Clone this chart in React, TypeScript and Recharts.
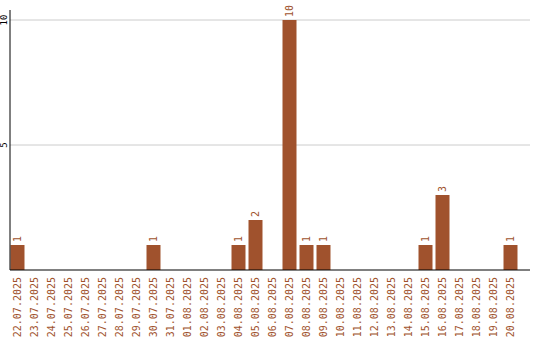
import React from "react";
import { BarChart, Bar, XAxis, YAxis, CartesianGrid, LabelList } from "recharts";

const dates = [
  "22.07.2025", "23.07.2025", "24.07.2025", "25.07.2025", "26.07.2025",
  "27.07.2025", "28.07.2025", "29.07.2025", "30.07.2025", "31.07.2025",
  "01.08.2025", "02.08.2025", "03.08.2025", "04.08.2025", "05.08.2025",
  "06.08.2025", "07.08.2025", "08.08.2025", "09.08.2025", "10.08.2025",
  "11.08.2025", "12.08.2025", "13.08.2025", "14.08.2025", "15.08.2025",
  "16.08.2025", "17.08.2025", "18.08.2025", "19.08.2025", "20.08.2025",
];
const counts = [
  1, 0, 0, 0, 0,
  0, 0, 0, 1, 0,
  0, 0, 0, 1, 2,
  0, 10, 1, 1, 0,
  0, 0, 0, 0, 1,
  3, 0, 0, 0, 1,
];
const yTicks = [0, 5, 10];
const gridValues = [5, 10];

const data = dates.map((d, i) => ({ date: d, value: counts[i] }));

const BROWN = "#a0522d";
const FONT = "DejaVu Sans Mono";

const XTick = (props: any) => {
  const { x, y, payload } = props;
  return (
    <text
      transform={`translate(${x},${y}) rotate(-90)`}
      textAnchor="end"
      dy="0.35em"
      fill={BROWN}
      fontSize={10}
      fontFamily={FONT}
    >
      {payload.value}
    </text>
  );
};

const YTick = (props: any) => {
  const { x, y, payload } = props;
  if (!payload.value) return null;
  return (
    <text
      transform={`translate(${x},${y}) rotate(-90)`}
      textAnchor="middle"
      dy="0.35em"
      fill="#000"
      fontSize={9}
      fontFamily={FONT}
    >
      {payload.value}
    </text>
  );
};

const ValueLabel = (props: any) => {
  const { x, y, width, value } = props;
  if (!value) return null;
  return (
    <text
      transform={`translate(${x + width / 2},${y - 3}) rotate(-90)`}
      textAnchor="start"
      dy="0.35em"
      fill={BROWN}
      fontSize={10}
      fontFamily={FONT}
    >
      {value}
    </text>
  );
};

export default function App() {
  return (
    <div style={{ position: "absolute", left: 0, top: 0, background: "#fff" }}>
      <BarChart
        width={540}
        height={340}
        data={data}
        margin={{ top: 10, right: 10, bottom: 0, left: 0 }}
      >
        <CartesianGrid vertical={false} stroke="#cccccc" horizontalValues={gridValues} />
        <XAxis
          dataKey="date"
          interval={0}
          height={70}
          padding={{ left: -1.5, right: 11.5 }}
          tickLine={false}
          tickSize={0}
          tickMargin={7}
          axisLine={{ stroke: "#000" }}
          tick={<XTick />}
        />
        <YAxis
          width={10}
          domain={[0, 10.4]}
          ticks={yTicks}
          interval={0}
          tickLine={false}
          tickSize={0}
          tickMargin={6}
          axisLine={{ stroke: "#000" }}
          tick={<YTick />}
        />
        <Bar dataKey="value" fill={BROWN} barSize={14} isAnimationActive={false}>
          <LabelList dataKey="value" content={<ValueLabel />} />
        </Bar>
      </BarChart>
    </div>
  );
}
